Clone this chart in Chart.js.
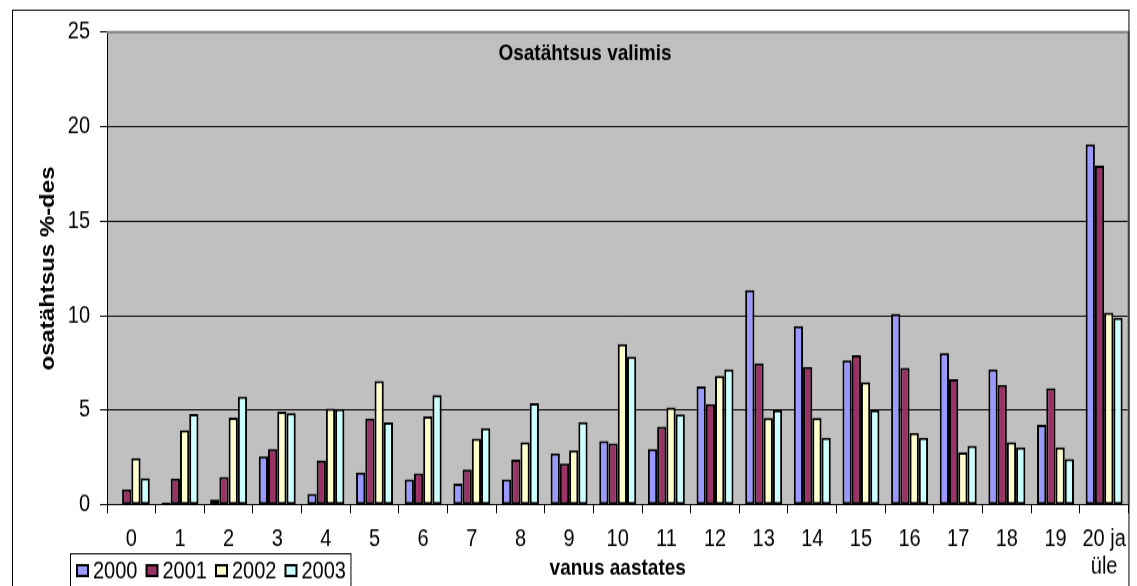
<!DOCTYPE html>
<html>
<head>
<meta charset="utf-8">
<script src="https://cdn.jsdelivr.net/npm/chart.js@4/dist/chart.umd.min.js"></script>
<style>
    html, body { margin: 0; background: #ffffff; }
    #frame { width: 1137px; height: 586px; position: relative; overflow: hidden; }
    /* the original picture is stretched vertically, so is this one */
    #wrap { position: absolute; left: 0; top: 0; width: 1137px; height: 489px;
            transform: scale(1, 1.2); transform-origin: 0 0; }
</style>
</head>
<body>
<div id="frame"><div id="wrap"><canvas id="age-bars" width="1137" height="489"></canvas></div></div>
<script>
// vanuserühmad (x-telg)
var ageGroups = ["0", "1", "2", "3", "4", "5", "6", "7", "8", "9", "10",
    "11", "12", "13", "14", "15", "16", "17", "18", "19", ["20 ja", "üle"]];

var years = ["2000", "2001", "2002", "2003"];

var share2000 = [0, 0.12, 0.29, 2.56, 0.59, 1.71, 1.35, 1.12, 1.34, 2.73, 3.37,
    2.94, 6.27, 11.36, 9.45, 7.65, 10.1, 8.02, 7.17, 4.24, 19.07];
var share2001 = [0.82, 1.39, 1.47, 2.94, 2.34, 4.57, 1.67, 1.87, 2.4, 2.18, 3.25,
    4.13, 5.33, 7.49, 7.29, 7.92, 7.24, 6.64, 6.34, 6.16, 17.94];
var share2002 = [2.47, 3.94, 4.61, 4.93, 5.09, 6.55, 4.68, 3.51, 3.32, 2.89, 8.5,
    5.16, 6.82, 4.59, 4.59, 6.48, 3.8, 2.78, 3.31, 3.04, 10.16];
var share2003 = [1.41, 4.8, 5.72, 4.85, 5.08, 4.36, 5.8, 4.06, 5.38, 4.38, 7.83,
    4.78, 7.17, 5.01, 3.55, 5.01, 3.55, 3.12, 3.04, 2.42, 9.89];

var yTicks = [0, 5, 10, 15, 20, 25];

var chartTitle = "Osatähtsus valimis";
var xTitle = "vanus aastates";
var yTitle = "osatähtsus %-des";

var colors = ["#9999FF", "#993366", "#FFFFCC", "#CCFFFF"];
var sans = "'Liberation Sans', Arial, sans-serif";

function makeDataset(label, values, color) {
    return {
        label: label,
        data: values,
        backgroundColor: color,
        borderColor: "#000000",
        borderWidth: 2,
        borderSkipped: false,
        barPercentage: 1.0,
        categoryPercentage: 0.76
    };
}

// hall joonise taust, raam, pealkiri ja legend
var excelLook = {
    id: "excelLook",
    beforeDraw: function(chart) {
        var ctx = chart.ctx;
        var a = chart.chartArea;
        ctx.save();
        ctx.fillStyle = "#C0C0C0";
        ctx.fillRect(a.left, a.top, a.right - a.left, a.bottom - a.top);
        ctx.restore();
    },
    afterDraw: function(chart) {
        var ctx = chart.ctx;
        var a = chart.chartArea;
        ctx.save();

        // plot area top/right edge
        ctx.strokeStyle = "#808080";
        ctx.lineWidth = 2;
        ctx.beginPath();
        ctx.moveTo(a.left, a.top);
        ctx.lineTo(a.right, a.top);
        ctx.lineTo(a.right, a.bottom);
        ctx.stroke();

        // outer frame
        ctx.strokeStyle = "#000000";
        ctx.lineWidth = 1;
        ctx.strokeRect(12.5, 8.5, a.right - 12, 500);

        // title inside the plot
        ctx.fillStyle = "#000000";
        ctx.font = "bold 19px " + sans;
        ctx.textAlign = "center";
        ctx.textBaseline = "middle";
        ctx.fillText(chartTitle, 585, 45);

        // legend box
        var lx = 70.5, ly = 461.5;
        ctx.font = "20px " + sans;
        ctx.textAlign = "left";
        var x = 77;
        var items = [];
        chart.data.datasets.forEach(function(ds) {
            items.push({x: x, label: ds.label, color: ds.backgroundColor});
            x += 16 + ctx.measureText(ds.label).width + 9;
        });
        ctx.fillStyle = "#ffffff";
        ctx.fillRect(lx, ly, x - 4 - lx, 40);
        ctx.strokeStyle = "#000000";
        ctx.lineWidth = 1;
        ctx.strokeRect(lx, ly, x - 4 - lx, 40);
        items.forEach(function(it) {
            ctx.fillStyle = it.color;
            ctx.fillRect(it.x, 471, 11, 9);
            ctx.lineWidth = 2;
            ctx.strokeRect(it.x, 471, 11, 9);
            ctx.fillStyle = "#000000";
            ctx.fillText(it.label, it.x + 16, 476.5);
        });
        ctx.restore();
    }
};

var allShares = [share2000, share2001, share2002, share2003];
var datasets = [];
years.forEach(function(year, i) {
    datasets.push(makeDataset(year, allShares[i], colors[i]));
});

new Chart(document.getElementById("age-bars"), {
    type: "bar",
    data: {
        labels: ageGroups,
        datasets: datasets
    },
    options: {
        responsive: false,
        animation: false,
        layout: {
            padding: {top: 26.7, right: 7, bottom: 0, left: 0}
        },
        plugins: {
            legend: {display: false},
            title: {display: false},
            tooltip: {enabled: false}
        },
        scales: {
            x: {
                grid: {
                    display: true,
                    drawOnChartArea: false,
                    color: "#000000",
                    tickLength: 7,
                    offset: true
                },
                border: {display: true, color: "#000000", width: 1},
                ticks: {
                    color: "#000000",
                    font: {family: sans, size: 20, lineHeight: 1.125},
                    padding: 11,
                    maxRotation: 0,
                    autoSkip: false
                },
                title: {
                    display: true,
                    text: xTitle,
                    color: "#000000",
                    font: {family: sans, size: 19, weight: "bold", lineHeight: 1.2},
                    padding: {top: 0, bottom: 4}
                },
                afterFit: function(scale) {
                    scale.height = 68.3;
                }
            },
            y: {
                min: 0,
                max: 25,
                afterBuildTicks: function(scale) {
                    scale.ticks = yTicks.map(function(v) { return {value: v}; });
                },
                grid: {
                    color: "#000000",
                    lineWidth: 1,
                    tickLength: 7
                },
                border: {display: true, color: "#000000", width: 1},
                ticks: {
                    color: "#000000",
                    font: {family: sans, size: 20},
                    padding: 10
                },
                title: {
                    display: true,
                    text: yTitle,
                    color: "#000000",
                    font: {family: sans, size: 20, weight: "bold", lineHeight: 1.2},
                    padding: {top: 36, bottom: 0}
                },
                afterFit: function(scale) {
                    scale.width = 107;
                }
            }
        }
    },
    plugins: [excelLook]
});
</script>
</body>
</html>
